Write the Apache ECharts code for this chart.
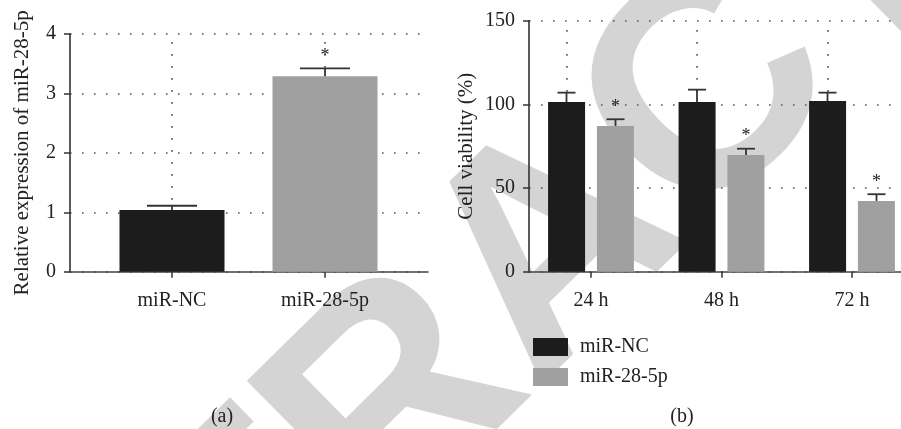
<!DOCTYPE html>
<html>
<head>
<meta charset="utf-8">
<script src="https://cdn.jsdelivr.net/npm/echarts@6/dist/echarts.min.js"></script>
<style>
html,body{margin:0;padding:0;background:#fff;overflow:hidden;width:901px;height:429px;}
#chart{width:940px;height:429px;}
</style>
</head>
<body>
<div id="chart"></div>
<script>
// ---- data ----
const catsA = ['miR-NC', 'miR-28-5p'];
const valsA = [1.04, 3.29];
const errA = [0.07, 0.13];
const sigA = [0, 1];
const yMaxA = 4, yStepA = 1;

const catsB = ['24 h', '48 h', '72 h'];
const ncB = [101.4, 101.4, 102.0];
const ncErrB = [5.6, 7.4, 5.0];
const ncSigB = [0, 0, 0];
const miB = [87.1, 69.8, 42.3];
const miErrB = [4.0, 3.7, 4.0];
const miSigB = [1, 1, 1];
const yMaxB = 150, yStepB = 50;

const seriesNames = ['miR-NC', 'miR-28-5p'];
const labelA = 'Relative expression of miR-28-5p';
const labelB = 'Cell viability (%)';
const panelTags = ['(a)', '(b)'];
const watermark = 'RETRACTED';

// ---- style ----
const FONT = '"Liberation Serif", "Times New Roman", serif';
const TXT = '#222';
const BLACK = '#1c1c1c', GRAY = '#a0a0a0';
const AXC = '#333';
const DOT = {type: [1.6, 10.4], color: '#555', width: 1.6};

const chart = echarts.init(document.getElementById('chart'), null, {renderer: 'canvas', width: 940, height: 429});

function errRender(offsetPx, capW) {
  return function (params, api) {
    const cat = api.value(0), v = api.value(1), e = api.value(2), s = api.value(3);
    const b = api.coord([cat, v]);
    const t = api.coord([cat, v + e]);
    const x = b[0] + offsetPx;
    const ch = [
      {type: 'line', shape: {x1: x, y1: b[1], x2: x, y2: t[1]}, style: {stroke: AXC, lineWidth: 1.8}},
      {type: 'line', shape: {x1: x - capW / 2, y1: t[1], x2: x + capW / 2, y2: t[1]}, style: {stroke: AXC, lineWidth: 1.8}}
    ];
    if (s) {
      ch.push({type: 'text', x: x, y: t[1] - 12, style: {text: '*', font: '18px ' + FONT, fill: TXT, textAlign: 'center', textVerticalAlign: 'middle'}});
    }
    return {type: 'group', children: ch};
  };
}

function vLines(cats) {
  return {silent: true, symbol: 'none', z: 1, label: {show: false}, lineStyle: DOT,
    data: cats.map(c => ({xAxis: c}))};
}

const hiddenX = (gi) => ({gridIndex: gi, type: 'value', min: 0, max: 1,
  axisLine: {show: true, lineStyle: {color: '#444', width: 1.6}},
  axisTick: {show: false}, axisLabel: {show: false}, splitLine: {show: false}});

const catX = (gi, cats) => ({gridIndex: gi, type: 'category', data: cats,
  axisLine: {show: false},
  axisTick: {show: true, alignWithLabel: true, length: 6, lineStyle: {color: AXC, width: 1.5}},
  axisLabel: {margin: 19, fontFamily: FONT, fontSize: 20, color: TXT},
  splitLine: {show: false}});

const valY = (gi, max, step, name, gap) => ({gridIndex: gi, type: 'value', min: 0, max: max, interval: step,
  name: name, nameLocation: 'middle', nameGap: gap, nameRotate: 90,
  nameTextStyle: {fontFamily: FONT, fontSize: 21, color: TXT},
  axisLine: {show: true, lineStyle: {color: AXC, width: 1.6}},
  axisTick: {show: true, inside: false, length: 6, lineStyle: {color: AXC, width: 1.5}},
  axisLabel: {margin: 14, fontFamily: FONT, fontSize: 20, color: TXT},
  splitLine: {show: true, lineStyle: DOT}});

const hidY = (gi, max) => ({gridIndex: gi, type: 'value', min: 0, max: max, show: false});

const option = {
  animation: false,
  backgroundColor: '#fff',
  graphic: [
    {type: 'text', z: -10, x: 556, y: 253, rotation: 0.777,
      style: {text: watermark, font: 'bold 305px "Liberation Sans", Arial, sans-serif', fill: '#d4d4d4',
        textAlign: 'center', textVerticalAlign: 'middle'}},
    {type: 'text', x: 222, y: 417, style: {text: panelTags[0], font: '20px ' + FONT, fill: TXT, textAlign: 'center', textVerticalAlign: 'middle'}},
    {type: 'text', x: 682, y: 417, style: {text: panelTags[1], font: '20px ' + FONT, fill: TXT, textAlign: 'center', textVerticalAlign: 'middle'}}
  ],
  legend: {
    data: seriesNames, orient: 'vertical', left: 533, top: 337, padding: 0, itemWidth: 35, itemHeight: 18, itemGap: 10,
    icon: 'rect', selectedMode: false,
    textStyle: {fontFamily: FONT, fontSize: 20, color: TXT, padding: [0, 0, 0, 7]}
  },
  grid: [
    {left: 70, top: 34, width: 358, height: 237.7},
    {left: 95.5, top: 34, width: 306, height: 237.7},
    {left: 529, top: 20.7, width: 400, height: 251},
    {left: 525.75, top: 20.7, width: 391.5, height: 251}
  ],
  xAxis: [hiddenX(0), catX(1, catsA), hiddenX(2), catX(3, catsB)],
  yAxis: [valY(0, yMaxA, yStepA, labelA, 37), hidY(1, yMaxA), valY(2, yMaxB, yStepB, labelB, 52), hidY(3, yMaxB)],
  series: [
    {name: 'A', type: 'bar', xAxisIndex: 1, yAxisIndex: 1, barWidth: 105, z: 2,
      data: valsA.map((v, i) => ({value: v, itemStyle: {color: i === 0 ? BLACK : GRAY}})),
      markLine: vLines(catsA)},
    {name: 'Aerr', type: 'custom', xAxisIndex: 1, yAxisIndex: 1, z: 3,
      renderItem: errRender(0, 50),
      data: catsA.map((c, i) => [c, valsA[i], errA[i], sigA[i]])},
    {name: seriesNames[0], type: 'bar', xAxisIndex: 3, yAxisIndex: 3, barWidth: 37, barGap: '32%', z: 2,
      itemStyle: {color: BLACK}, data: ncB, markLine: vLines(catsB)},
    {name: seriesNames[1], type: 'bar', xAxisIndex: 3, yAxisIndex: 3, barWidth: 37, barGap: '32%', z: 2,
      itemStyle: {color: GRAY}, data: miB},
    {name: 'NCerr', type: 'custom', xAxisIndex: 3, yAxisIndex: 3, z: 3,
      renderItem: errRender(-24.5, 18),
      data: catsB.map((c, i) => [c, ncB[i], ncErrB[i], ncSigB[i]])},
    {name: 'MIerr', type: 'custom', xAxisIndex: 3, yAxisIndex: 3, z: 3,
      renderItem: errRender(24.5, 18),
      data: catsB.map((c, i) => [c, miB[i], miErrB[i], miSigB[i]])}
  ]
};
chart.setOption(option);
</script>
</body>
</html>
